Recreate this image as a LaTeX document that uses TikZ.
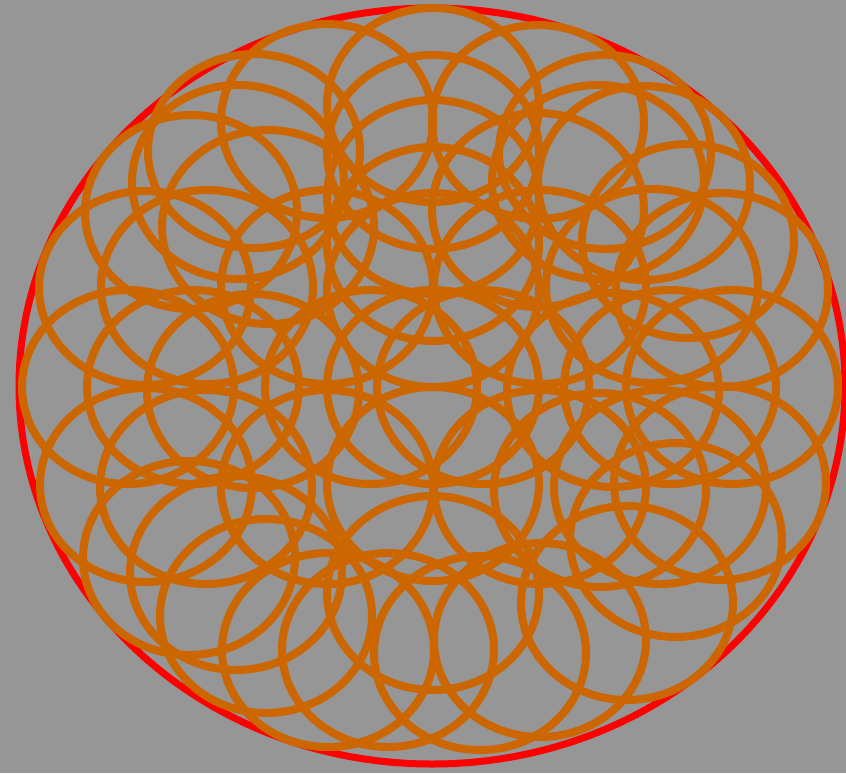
\documentclass[tikz,border=0pt]{standalone}
\usepackage{xcolor}
\usepackage{tikz}
\definecolor{canvas}{HTML}{969696}
\definecolor{ringorange}{HTML}{CC6600}

\begin{document}
\begin{tikzpicture}[
  x=0.03cm, y=-0.03cm,
  rim/.style={draw=red, line width=0.21cm},
  ring/.style={draw=ringorange, line width=0.24cm}
]
\fill[canvas] (0,0) rectangle (846,773);
\useasboundingbox (0,0) rectangle (846,773);
\clip (0,0) rectangle (846,773);
\draw[rim] (432,386) ellipse [x radius=413, y radius=378];
% rings, centre points in pixels
\foreach \cx/\cy in {433/105, 327/121, 538/122, 433/152, 433/197, 433/244,
  254/151, 238/182, 191/212, 268/227,
  605/152, 598/182, 644/183, 538/210, 688/241,
  145/288, 207/287, 128/387, 193/387, 253/391, 146/485, 206/487,
  722/290, 652/286, 732/387, 670/387, 613/390, 720/483, 660/487,
  327/287, 540/287, 433/290, 371/387, 433/387, 483/387,
  327/487, 433/484, 540/487,
  189/558, 236/573, 266/616, 328/650, 388/650, 433/593, 480/653,
  540/640, 627/603, 676/540, 600/490}
  \draw[ring] (\cx,\cy) ellipse [x radius=106, y radius=97];
\end{tikzpicture}
\end{document}
